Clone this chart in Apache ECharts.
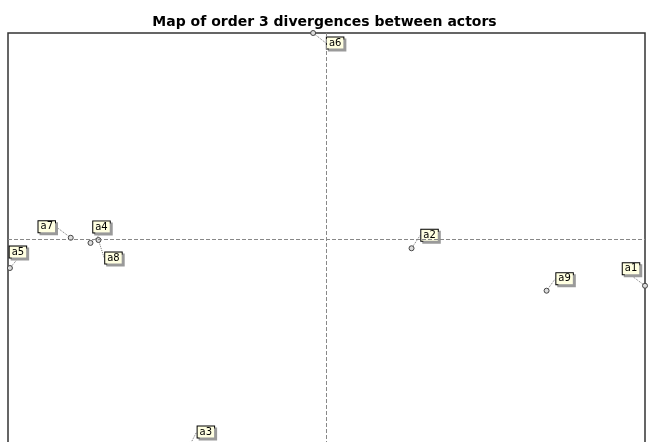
<!DOCTYPE html>
<html>
<head>
<meta charset="utf-8">
<script src="https://cdn.jsdelivr.net/npm/echarts@6/dist/echarts.min.js"></script>
<style>html,body{margin:0;padding:0;background:#fff;overflow:hidden}#c{width:649px;height:448px}</style>
</head>
<body>
<div id="c"></div>
<script>
var titleText = 'Map of order 3 divergences between actors';
var actors = ['a1','a2','a3','a4','a5','a6','a7','a8','a9'];
var xValues = [1.0, 0.267, -0.429, -0.741, -0.994, -0.042, -0.803, -0.716, 0.691];
var yValues = [-0.227, -0.045, -1.0, -0.019, -0.141, 1.0, 0.006, -0.005, -0.251];
// label displacement (px) from each point
var labelDx = [-14, 18, 16, 11, 8, 22, -24, 15, 18];
var labelDy = [-17, -13, -13, -16, -16, 10, -11, 18, -12];

var data = actors.map(function (n, i) { return { name: n, value: [xValues[i], yValues[i]] }; });

var chart = echarts.init(document.getElementById('c'), null, { renderer: 'canvas' });
chart.setOption({
  animation: false,
  backgroundColor: '#fff',
  title: {
    text: titleText, left: 'center', top: 10,
    textStyle: { fontFamily: 'DejaVu Sans', fontSize: 14, fontWeight: 'bold', color: '#000' }
  },
  grid: { left: 8, right: 4, top: 33, bottom: 3, show: true, borderColor: '#333', borderWidth: 1.5, backgroundColor: 'transparent' },
  xAxis: { type: 'value', min: -1, max: 1, show: false },
  yAxis: { type: 'value', min: -1, max: 1, show: false },
  series: [{
    type: 'scatter',
    data: data,
    clip: false,
    symbol: 'circle',
    symbolSize: 5,
    itemStyle: { color: '#ddd', borderColor: '#444', borderWidth: 1, opacity: 1 },
    label: {
      show: true,
      position: 'inside',
      formatter: '{b}',
      fontFamily: 'DejaVu Sans',
      fontSize: 10,
      color: '#000',
      backgroundColor: '#ffffe1',
      borderColor: '#000',
      borderWidth: 1,
      padding: [1, 2, 0, 2],
      shadowColor: '#9a9a9a',
      shadowOffsetX: 2,
      shadowOffsetY: 2,
      shadowBlur: 0
    },
    labelLine: { show: true, lineStyle: { color: '#777', width: 1, type: 'dotted' } },
    labelLayout: function (p) { return { dx: labelDx[p.dataIndex], dy: labelDy[p.dataIndex] }; },
    markLine: {
      silent: true,
      symbol: 'none',
      label: { show: false },
      lineStyle: { color: '#888', type: 'dashed', width: 1 },
      data: [{ xAxis: 0 }, { yAxis: 0 }]
    },
    z: 3
  }]
});
</script>
</body>
</html>
